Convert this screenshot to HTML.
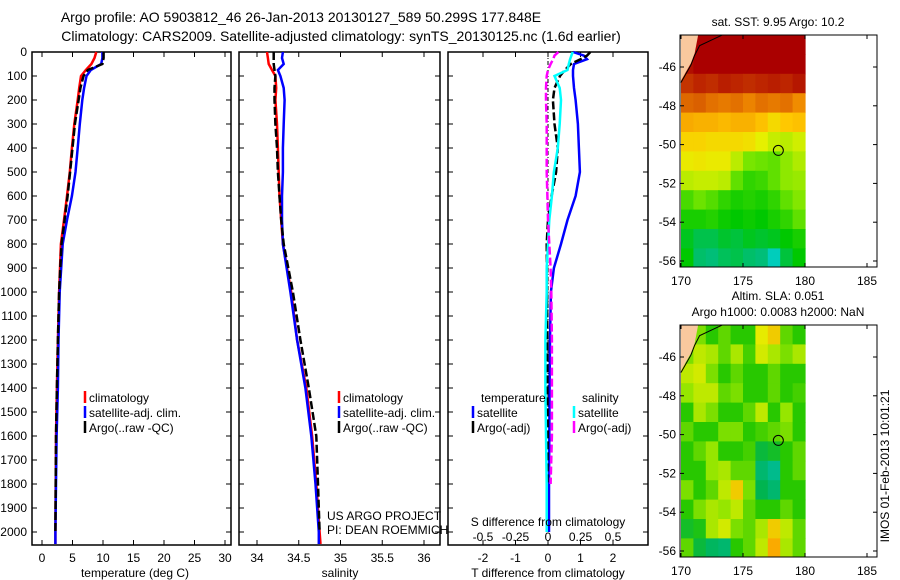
<!DOCTYPE html>
<html><head><meta charset="utf-8"><style>
body{margin:0;background:#fff}
svg{display:block;font-family:"Liberation Sans",sans-serif}
text{fill:#000}
</style></head><body>
<svg id="fig" width="900" height="580" viewBox="0 0 900 580" xmlns="http://www.w3.org/2000/svg">
<text x="301" y="22" font-size="14" text-anchor="middle">Argo profile: AO 5903812_46 26-Jan-2013 20130127_589 50.299S 177.848E</text>
<text x="341" y="41" font-size="14" text-anchor="middle">Climatology: CARS2009. Satellite-adjusted climatology: synTS_20130125.nc (1.6d earlier)</text>
<g id="plots"></g>
</svg>
<script>
// ---- profile data ----
const tempDepth=[0,25,50,75,100,150,200,300,400,500,600,700,800,1000,1200,1400,1600,1800,2000,2050];
const tempClim=[8.9,8.6,8.1,7.2,6.4,6.1,5.85,5.3,4.9,4.55,4.1,3.6,3.1,2.8,2.6,2.45,2.3,2.25,2.2,2.2];
const tempSat=[9.9,9.9,9.7,8.0,7.3,6.9,6.6,6.2,5.85,5.5,4.9,4.1,3.4,2.9,2.7,2.6,2.4,2.3,2.2,2.2];
const tempArgo=[10.1,10.1,9.9,7.5,6.8,6.3,6.0,5.4,5.0,4.6,4.2,3.7,3.2,2.8,2.6,2.45,2.3,2.25,2.2];
const salClim=[34.12,34.13,34.14,34.18,34.22,34.23,34.22,34.24,34.25,34.26,34.27,34.29,34.31,34.41,34.48,34.59,34.66,34.71,34.75,34.76];
const salSat=[34.31,34.30,34.32,34.25,34.28,34.32,34.33,34.32,34.31,34.31,34.3,34.3,34.31,34.4,34.48,34.58,34.65,34.70,34.74,34.74];
const salArgo=[34.2,34.2,34.2,34.21,34.22,34.21,34.21,34.22,34.24,34.25,34.27,34.29,34.32,34.43,34.52,34.62,34.71,34.73,34.75];
const diffDepth=[0,15,30,50,75,100,150,200,300,400,500,600,700,800,900,1000,1200,1400,1600,1800,2000];
const tDiffSat=[0.77,1.1,1.2,0.8,0.77,0.77,0.8,0.85,0.92,0.95,0.98,0.85,0.6,0.4,0.18,0.09,0.06,0.05,0.04,0.03,0.03];
const tDiffArgo=[1.3,1.2,1.0,0.7,0.52,0.37,0.2,0.15,0.2,0.3,0.25,0.11,0.0,-0.04,-0.03,-0.03,-0.02,-0.02,-0.01,-0.02];
const sDiffSat=[0.19,0.18,0.17,0.16,0.15,0.05,0.09,0.1,0.09,0.075,0.045,0.03,0.01,0.0,-0.01,-0.01,-0.02,-0.02,-0.015,-0.01,-0.01];
const sDiffArgo=[0.08,0.05,0.04,0.02,0.0,-0.01,-0.015,-0.015,-0.01,-0.01,-0.01,-0.005,0.0,0.01,0.02,0.025,0.03,0.03,0.03,0.02];
const depthTicks=[0,100,200,300,400,500,600,700,800,900,1000,1100,1200,1300,1400,1500,1600,1700,1800,1900,2000];
const tempTicks=[0,5,10,15,20,25,30];
const salTicks=[34,34.5,35,35.5,36];
const salTickLabels=["34","34.5","35","35.5","36"];
const tDiffTicks=[-2,-1,0,1,2];
const sDiffTicks=[-0.5,-0.25,0,0.25,0.5];
// ---- map data (rows lat -44.35 downward 1 deg, cols lon 170..180) ----
const lonTicks=[170,175,180,185];
const latTicks=[-46,-48,-50,-52,-54,-56];
const sstGrid=[
[13,13,13,13,13,13,13,13,13,13],
[12.8,13,13,13,13,13,13,13,13,13],
[12.3,12.5,12.4,12.6,12.5,12.4,12.5,12.6,12.5,12.7],
[11.7,11.8,11.6,11.5,11.6,11.4,11.6,11.5,11.6,11.3],
[10.9,10.8,10.8,10.7,10.8,10.8,10.6,10.2,10.5,10.6],
[10.3,10.3,10.2,10.2,10.2,10.1,9.8,9.5,9.4,9.6],
[9.9,10,9.9,9.9,9.4,8.8,8.7,8.6,9.0,9.3],
[9.4,9.5,9.5,9.4,8.6,8.2,8.3,8.6,9.0,9.1],
[8.4,8.7,8.5,8.2,8.0,8.1,8.0,8.2,8.6,8.9],
[8.0,8.0,8.1,7.9,7.8,7.9,7.8,8.0,8.2,8.6],
[7.6,7.3,7.3,7.5,7.4,7.6,7.5,7.6,7.8,8.0],
[7.8,7.1,7.0,7.2,7.3,7.1,7.0,6.4,7.4,7.8]];
const slaGrid=[
[0.03,0.03,0.0,0.02,0.0,0.0,0.08,0.1,0.02,0.0],
[0.03,0.06,0.05,0.02,0.05,0.01,0.07,0.05,0.03,0.05],
[0.06,0.07,0.03,0.0,0.02,0.0,0.0,0.02,0.0,0.0],
[0.04,0.06,0.06,0.02,0.03,0.0,0.0,0.02,0.0,0.01],
[0.0,0.05,0.03,0.0,0.0,0.02,0.06,0.0,0.04,0.0],
[0.02,0.0,0.0,0.03,0.03,0.0,0.01,0.02,0.03,0.0],
[0.0,0.02,0.04,0.0,0.0,0.01,-0.03,-0.02,0.0,0.02],
[0.0,0.0,0.04,0.05,0.02,0.02,-0.06,-0.08,0.0,0.02],
[0.03,0.0,0.02,0.06,0.1,0.03,-0.04,-0.06,0.0,0.0],
[0.0,0.03,0.05,0.04,0.06,0.02,0.0,0.0,0.02,0.0],
[-0.02,-0.01,0.05,0.07,0.03,0.02,0.05,0.1,0.06,0.02],
[0.02,-0.03,-0.05,-0.06,0.0,0.02,0.06,0.12,0.05,0.02]];
const argoLon=177.85, argoLat=-50.3;

const NS="http://www.w3.org/2000/svg";
const root=document.getElementById('plots');
function mk(tag,attrs,parent){const e=document.createElementNS(NS,tag);for(const k in attrs)e.setAttribute(k,attrs[k]);(parent||root).appendChild(e);return e;}
function txt(x,y,s,size,anchor,parent){const t=mk('text',{x:x,y:y,'font-size':size,'text-anchor':anchor||'start'},parent);t.textContent=s;return t;}

const yTop=52,yBot=545;
const yD=d=>yTop+d*0.24;
function panel(name,x0,x1){
  const g=mk('g',{});
  
  
  const r=mk('rect',{x:x0,y:yTop,width:x1-x0,height:yBot-yTop,fill:'none',stroke:'#000','stroke-width':1.5},g);
  
  
  depthTicks.forEach(d=>{mk('line',{x1:x0,x2:x0+5,y1:yD(d),y2:yD(d),stroke:'#000'},g);mk('line',{x1:x1,x2:x1-5,y1:yD(d),y2:yD(d),stroke:'#000'},g);});
  return g;
}
function series(g,name,depths,vals,fx,color,dash,w){
  const pts=vals.map((v,i)=>fx(v).toFixed(1)+','+yD(depths[i]).toFixed(1)).join(' ');
  const p=mk('polyline',{points:pts,fill:'none',stroke:color,'stroke-width':w||2.5,'stroke-dasharray':dash||'none'},g);
  
  
}
function legend(g,x,y,color,label){
  mk('line',{x1:x,x2:x,y1:y-11,y2:y+1,stroke:color,'stroke-width':2.5},g);
  const t=txt(x+4,y,label,12,'start',g);
  
  
}
depthTicks.forEach(d=>{const t=txt(27,yD(d)+4,String(d),12,'end');});

// panel 1 temperature
const xT=v=>42+v*6.1;
const g1=panel('temperature-panel',32,231);
tempTicks.forEach(v=>{mk('line',{x1:xT(v),x2:xT(v),y1:yBot,y2:yBot-5,stroke:'#000'},g1);mk('line',{x1:xT(v),x2:xT(v),y1:yTop,y2:yTop+5,stroke:'#000'},g1);txt(xT(v),562,String(v),12,'middle',g1);});
series(g1,'temp-climatology',tempDepth,tempClim,xT,'#f00');
series(g1,'temp-satellite',tempDepth,tempSat,xT,'#00f');
series(g1,'temp-argo',tempDepth,tempArgo,xT,'#000','8,3');
legend(g1,85,402,'#f00','climatology');legend(g1,85,417,'#00f','satellite-adj. clim.');legend(g1,85,432,'#000','Argo(..raw -QC)');
txt(135,577,'temperature (deg C)',12,'middle',g1);

// panel 2 salinity
const xS=v=>257+(v-34)*83.5;
const g2=panel('salinity-panel',239,440);
salTicks.forEach((v,i)=>{mk('line',{x1:xS(v),x2:xS(v),y1:yBot,y2:yBot-5,stroke:'#000'},g2);mk('line',{x1:xS(v),x2:xS(v),y1:yTop,y2:yTop+5,stroke:'#000'},g2);txt(xS(v),562,salTickLabels[i],12,'middle',g2);});
series(g2,'sal-climatology',tempDepth,salClim,xS,'#f00');
series(g2,'sal-satellite',tempDepth,salSat,xS,'#00f');
series(g2,'sal-argo',tempDepth,salArgo,xS,'#000','8,3');
legend(g2,339,402,'#f00','climatology');legend(g2,339,417,'#00f','satellite-adj. clim.');legend(g2,339,432,'#000','Argo(..raw -QC)');
txt(327,520,'US ARGO PROJECT',12,'start',g2);
txt(327,534,'PI: DEAN ROEMMICH',12,'start',g2);
txt(340,577,'salinity',12,'middle',g2);

// panel 3 differences
const xDT=v=>548+v*32.5;
const xDS=v=>548+v*130;
const g3=panel('difference-panel',448,648);
tDiffTicks.forEach(v=>{mk('line',{x1:xDT(v),x2:xDT(v),y1:yBot,y2:yBot-5,stroke:'#000'},g3);mk('line',{x1:xDT(v),x2:xDT(v),y1:yTop,y2:yTop+5,stroke:'#000'},g3);txt(xDT(v),562,String(v),12,'middle',g3);});
sDiffTicks.forEach(v=>{txt(xDS(v),541,String(v),12,'middle',g3);});
mk('line',{x1:548,x2:548,y1:yTop,y2:yD(1500),stroke:'#000','stroke-width':1,'stroke-dasharray':'4,2,1,2'},g3);
series(g3,'tdiff-satellite',diffDepth,tDiffSat,xDT,'#00f');
series(g3,'tdiff-argo',diffDepth,tDiffArgo,xDT,'#000','8,3');
series(g3,'sdiff-satellite',diffDepth,sDiffSat,xDS,'#0ff');
series(g3,'sdiff-argo',diffDepth,sDiffArgo,xDS,'#f0f','8,3');
txt(481,402,'temperature',12,'start',g3);txt(582,402,'salinity',12,'start',g3);
legend(g3,473,417,'#00f','satellite');legend(g3,473,432,'#000','Argo(-adj)');
legend(g3,574,417,'#0ff','satellite');legend(g3,574,432,'#f0f','Argo(-adj)');
txt(548,526,'S difference from climatology',12,'middle',g3);
txt(548,577,'T difference from climatology',12,'middle',g3);

// ---- maps ----
function lerpColor(stops,v){
  if(v<=stops[0][0])return stops[0][1];
  for(let i=1;i<stops.length;i++){if(v<=stops[i][0]){const a=stops[i-1],b=stops[i],t=(v-a[0])/(b[0]-a[0]);return 'rgb('+a[1].map((c,k)=>Math.round(c+(b[1][k]-c)*t)).join(',')+')';}}
  return stops[stops.length-1][1];
}
function toRgb(c){return Array.isArray(c)?'rgb('+c.join(',')+')':c;}
const sstStops=[[6.2,[0,210,210]],[7,[0,190,120]],[7.8,[0,200,0]],[8.8,[120,230,0]],[9.8,[230,240,0]],[10.5,[255,200,0]],[11.3,[240,140,0]],[12.2,[200,60,0]],[13,[170,0,0]]];
const slaStops=[[-0.1,[0,190,170]],[-0.04,[0,180,80]],[0,[40,200,0]],[0.04,[150,230,0]],[0.08,[230,235,0]],[0.12,[250,170,0]]];
function drawMap(name,top,grid,stops,titleLines){
  const g=mk('g',{});
  
  
  const x0=680,x1=877,bot=top+232;
  const xL=lon=>681+(lon-170)*12.4;
  const yL=lat=>top+32+(-46-lat)*19.4;
  const cid='clip-'+name;
  const cp=mk('clipPath',{id:cid},g);mk('rect',{x:x0,y:top,width:x1-x0,height:bot-top},cp);
  const cg=mk('g',{'clip-path':'url(#'+cid+')'},g);
  const lat0=-44.35;
  grid.forEach((row,r)=>row.forEach((v,c)=>{
    const x=xL(170+c),y=yL(lat0-r);
    const cell=mk('rect',{x:x.toFixed(1),y:y.toFixed(1),width:13,height:20,fill:toRgb(lerpColor(stops,v))},cg);
    
    
  }));
  mk('polygon',{points:[[170,-44.3],[171.4,-44.3],[171.1,-45.3],[170.8,-45.8],[170,-46.7]].map(p=>xL(p[0])+','+yL(p[1])).join(' '),fill:'#f9c89e'},cg);
  mk('polyline',{points:[[170,-46.8],[170.8,-45.9],[171.1,-45.4],[171.5,-44.9],[172.5,-44.6],[173.5,-44.3]].map(p=>xL(p[0])+','+yL(p[1])).join(' '),fill:'none',stroke:'#000','stroke-width':1},cg);
  const m=mk('circle',{cx:xL(argoLon),cy:yL(argoLat),r:5,fill:'none',stroke:'#000','stroke-width':1},g);
  
  
  mk('rect',{x:x0,y:top,width:x1-x0,height:bot-top,fill:'none',stroke:'#000','stroke-width':1},g);
  lonTicks.forEach(l=>{mk('line',{x1:xL(l),x2:xL(l),y1:bot,y2:bot-4,stroke:'#000'},g);mk('line',{x1:xL(l),x2:xL(l),y1:top,y2:top+4,stroke:'#000'},g);txt(xL(l),bot+18,String(l),12,'middle',g);});
  latTicks.forEach(l=>{mk('line',{x1:x0,x2:x0+4,y1:yL(l),y2:yL(l),stroke:'#000'},g);mk('line',{x1:x1,x2:x1-4,y1:yL(l),y2:yL(l),stroke:'#000'},g);txt(676,yL(l)+4,String(l),12,'end',g);});
  const n=titleLines.length;
  titleLines.forEach((s,i)=>txt(778,top-9-(n-1-i)*16,s,12,'middle',g));
}
drawMap('sst-map',35,sstGrid,sstStops,['sat. SST: 9.95 Argo: 10.2']);
drawMap('sla-map',325,slaGrid,slaStops,['Altim. SLA: 0.051','Argo h1000: 0.0083 h2000: NaN']);
const stamp=txt(0,0,'IMOS 01-Feb-2013 10:01:21',12,'middle');
stamp.setAttribute('transform','translate(889,466) rotate(-90)');


</script>
</body></html>
